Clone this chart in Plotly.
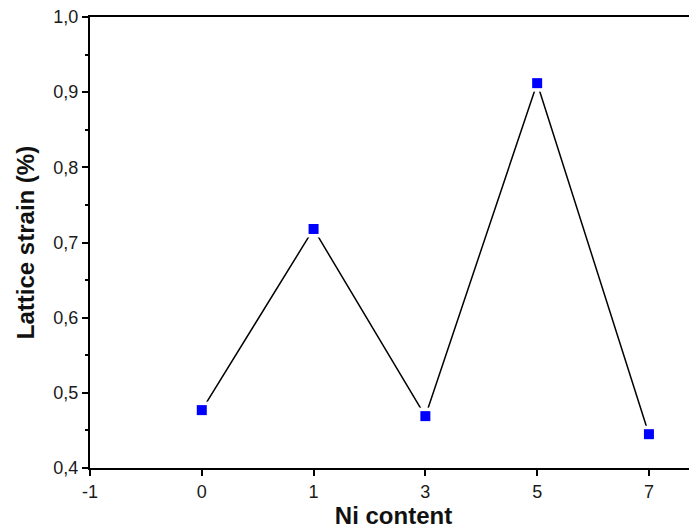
import plotly.graph_objects as go

categories = ["-1", "0", "1", "3", "5", "7"]
ni_content = ["0", "1", "3", "5", "7"]
lattice_strain = [0.477, 0.718, 0.469, 0.912, 0.445]

fig = go.Figure()
fig.add_trace(go.Scatter(x=ni_content, y=lattice_strain, mode="lines",
                         line=dict(color="black", width=1.5), hoverinfo="skip"))
fig.add_trace(go.Scatter(x=ni_content, y=lattice_strain, mode="markers",
                         marker=dict(symbol="square", size=17, color="white"), hoverinfo="skip"))
fig.add_trace(go.Scatter(x=ni_content, y=lattice_strain, mode="markers",
                         marker=dict(symbol="square", size=10, color="#0000ff",
                                     line=dict(width=0))))

axis_font = dict(family="Arial, Liberation Sans", size=18, color="#1a1a1a")
title_font = dict(family="Arial, Liberation Sans", size=24, color="#111111")
fig.update_layout(
    width=689, height=521,
    margin=dict(l=82, r=0, t=9, b=61, autoexpand=False),
    plot_bgcolor="white", paper_bgcolor="white",
    showlegend=False,
    separators=",.",
    xaxis=dict(type="category", categoryorder="array", categoryarray=categories,
               range=[0, 5.43], showline=True, linecolor="black", linewidth=2,
               mirror=True, ticks="outside", ticklen=6, tickwidth=2, tickcolor="black",
               showgrid=False, zeroline=False, tickfont=axis_font, automargin=False,
               ticklabeloverflow="allow",
               title=dict(text="<b>Ni content</b>", font=title_font, standoff=4)),
    yaxis=dict(range=[0.4, 1.0], dtick=0.1, tickformat=".1f",
               showline=True, linecolor="black", linewidth=2, mirror=False,
               ticks="outside", ticklen=6, tickwidth=2, tickcolor="black",
               minor=dict(dtick=0.05, ticks="outside", ticklen=3, tickwidth=2, tickcolor="black"),
               showgrid=False, zeroline=False, tickfont=axis_font, automargin=False,
               ticklabeloverflow="allow",
               title=dict(text="<b>Lattice strain (%)</b>", font=title_font, standoff=12)),
)
fig.write_html("out.html")
